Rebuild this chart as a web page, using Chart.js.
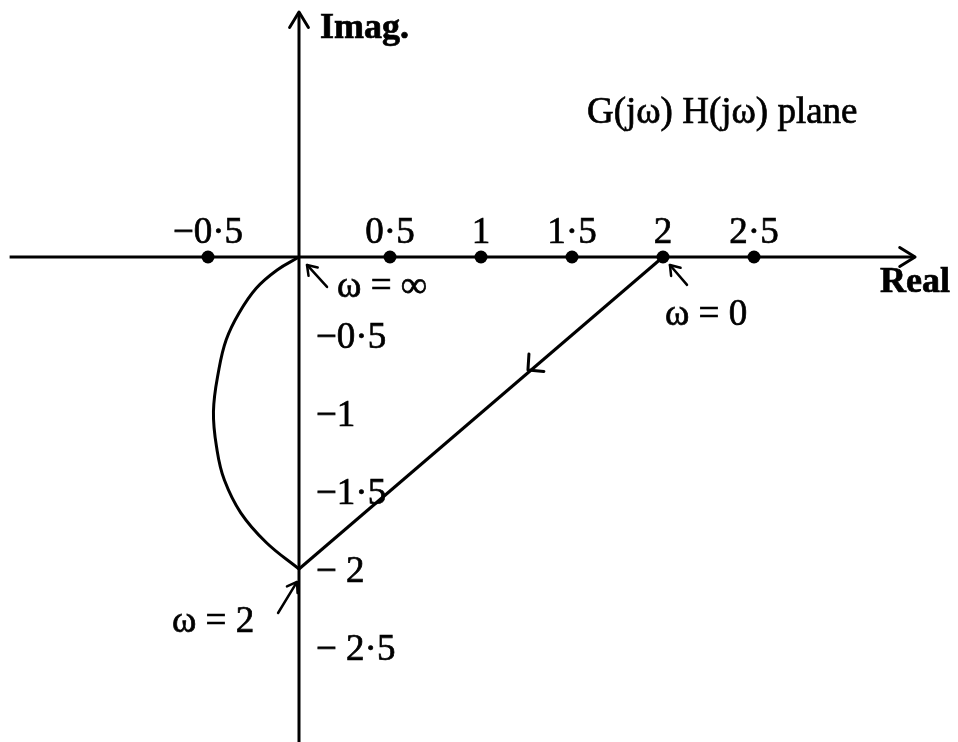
<!DOCTYPE html>
<html>
<head>
<meta charset="utf-8">
<title>G(jω) H(jω) plane</title>
<script src="https://cdn.jsdelivr.net/npm/chart.js@4"></script>
<style>
  html, body { margin: 0; padding: 0; background: #fff; }
  canvas { display: block; }
</style>
</head>
<body>
<canvas id="nyquistChart" width="958" height="742"></canvas>
<script>
// axis ticks (dots on the real axis, labels on the imaginary axis)
const realTicks = [-0.5, 0.5, 1, 1.5, 2, 2.5];
const realTickLabels = ['−0·5', '0·5', '1', '1·5', '2', '2·5'];
const imagTicks = [-0.5, -1, -1.5, -2, -2.5];
const imagTickLabels = ['−0·5', '−1', '−1·5', '− 2', '− 2·5'];

// locus: left arc from w = inf (origin) to w = 2 (-j2)
const arcRe = [0, -0.12, -0.235, -0.33, -0.40, -0.44, -0.47, -0.45, -0.41, -0.32, -0.18, 0];
const arcIm = [0, -0.083, -0.2, -0.36, -0.53, -0.72, -0.99, -1.24, -1.43, -1.64, -1.83, -2];

// straight part from w = 0 (2) to w = 2 (-j2)
const lineRe = [2, 0];
const lineIm = [0, -2];

// axis extents
const realAxis = [-1.59, 3.385];
const imagAxis = [-3.12, 1.57];

// text notes: [text, re, im, bold]
const notes = [
    ['Imag.', 0.115, 1.404, true],
    ['G(jω) H(jω) plane', 1.582, 0.859, false],
    ['Real', 3.192, -0.224, true],
    ['ω = ∞', 0.209, -0.256, false],
    ['ω = 0', 2.011, -0.436, false],
    ['ω = 2', -0.698, -2.404, false]
];

// small pointer arrows: [tailRe, tailIm, tipRe, tipIm]
const pointers = [
    [0.154, -0.192, 0.044, -0.051],
    [2.132, -0.179, 2.038, -0.051],
    [-0.115, -2.282, -0.011, -2.083]
];

// direction arrow on the straight line
const flowArrow = [1.258, -0.724];

const serif = "'Liberation Serif', 'Times New Roman', serif";

function toPts(xs, ys) {
    return xs.map((x, i) => ({ x: x, y: ys[i] }));
}

function chevron(ctx, tipX, tipY, dx, dy, len, spread) {
    // dx, dy: travel direction (unit)
    const back = Math.atan2(-dy, -dx);
    ctx.beginPath();
    ctx.moveTo(tipX + len * Math.cos(back + spread), tipY + len * Math.sin(back + spread));
    ctx.lineTo(tipX, tipY);
    ctx.lineTo(tipX + len * Math.cos(back - spread), tipY + len * Math.sin(back - spread));
    ctx.stroke();
}

function inkText(ctx, txt, x, y) {
    // scanned print is a little heavier than the font
    ctx.fillText(txt, x, y);
    ctx.strokeText(txt, x, y);
}

const notesPlugin = {
    id: 'notes',
    afterDatasetsDraw(chart) {
        const ctx = chart.ctx;
        const xs = chart.scales.x, ys = chart.scales.y;
        const px = v => xs.getPixelForValue(v);
        const py = v => ys.getPixelForValue(v);
        ctx.save();
        ctx.strokeStyle = '#000';
        ctx.fillStyle = '#000';
        ctx.lineWidth = 3;
        ctx.lineCap = 'round';
        ctx.lineJoin = 'round';

        // axis arrowheads
        chevron(ctx, px(realAxis[1]), py(0), 1, 0, 18, 0.55);
        chevron(ctx, px(0), py(imagAxis[1]), 0, -1, 18, 0.55);

        // flow direction on the straight line
        const lx = px(lineRe[1]) - px(lineRe[0]);
        const ly = py(lineIm[1]) - py(lineIm[0]);
        const ll = Math.hypot(lx, ly);
        chevron(ctx, px(flowArrow[0]), py(flowArrow[1]), lx / ll, ly / ll, 16, 0.8);

        // pointer arrows
        ctx.lineWidth = 2.5;
        pointers.forEach(p => {
            const x0 = px(p[0]), y0 = py(p[1]), x1 = px(p[2]), y1 = py(p[3]);
            ctx.beginPath();
            ctx.moveTo(x0, y0);
            ctx.lineTo(x1, y1);
            ctx.stroke();
            const d = Math.hypot(x1 - x0, y1 - y0);
            chevron(ctx, x1, y1, (x1 - x0) / d, (y1 - y0) / d, 11, 0.6);
        });

        ctx.lineWidth = 0.7;
        ctx.lineJoin = 'miter';

        // real axis tick labels
        ctx.font = '37px ' + serif;
        ctx.textAlign = 'center';
        ctx.textBaseline = 'alphabetic';
        realTicks.forEach((v, i) => {
            inkText(ctx, realTickLabels[i], px(v), py(0) - 14);
        });

        // imaginary axis tick labels
        ctx.textAlign = 'left';
        ctx.textBaseline = 'middle';
        imagTicks.forEach((v, i) => {
            inkText(ctx, imagTickLabels[i], px(0) + 17, py(v) + 3);
        });

        // notes
        ctx.textBaseline = 'alphabetic';
        notes.forEach(n => {
            ctx.font = (n[3] ? 'bold 36px ' : '37px ') + serif;
            inkText(ctx, n[0], px(n[1]), py(n[2]));
        });
        ctx.restore();
    }
};

function renderChart() {
    const ctx = document.getElementById('nyquistChart').getContext('2d');
    new Chart(ctx, {
        type: 'scatter',
        data: {
            datasets: [
                {
                    label: 'Real axis',
                    data: toPts(realAxis, [0, 0]),
                    showLine: true,
                    borderColor: '#000',
                    borderWidth: 3,
                    pointRadius: 0
                },
                {
                    label: 'Imag axis',
                    data: toPts([0, 0], imagAxis),
                    showLine: true,
                    borderColor: '#000',
                    borderWidth: 3,
                    pointRadius: 0
                },
                {
                    label: 'Arc',
                    data: toPts(arcRe, arcIm),
                    showLine: true,
                    borderColor: '#000',
                    borderWidth: 3,
                    tension: 0.4,
                    pointRadius: 0
                },
                {
                    label: 'Line',
                    data: toPts(lineRe, lineIm),
                    showLine: true,
                    borderColor: '#000',
                    borderWidth: 3,
                    pointRadius: 0
                },
                {
                    label: 'Ticks',
                    data: realTicks.map(v => ({ x: v, y: 0 })),
                    pointRadius: 6.5,
                    pointBackgroundColor: '#000',
                    pointBorderColor: '#000',
                    pointBorderWidth: 0
                }
            ]
        },
        options: {
            responsive: false,
            animation: false,
            layout: { padding: 0, autoPadding: false },
            plugins: {
                legend: { display: false },
                tooltip: { enabled: false }
            },
            scales: {
                x: { type: 'linear', display: false, min: -299 / 182, max: 659 / 182 },
                y: { type: 'linear', display: false, min: -485 / 156, max: 257 / 156 }
            }
        },
        plugins: [notesPlugin]
    });
}

document.addEventListener('DOMContentLoaded', renderChart);
</script>
</body>
</html>
